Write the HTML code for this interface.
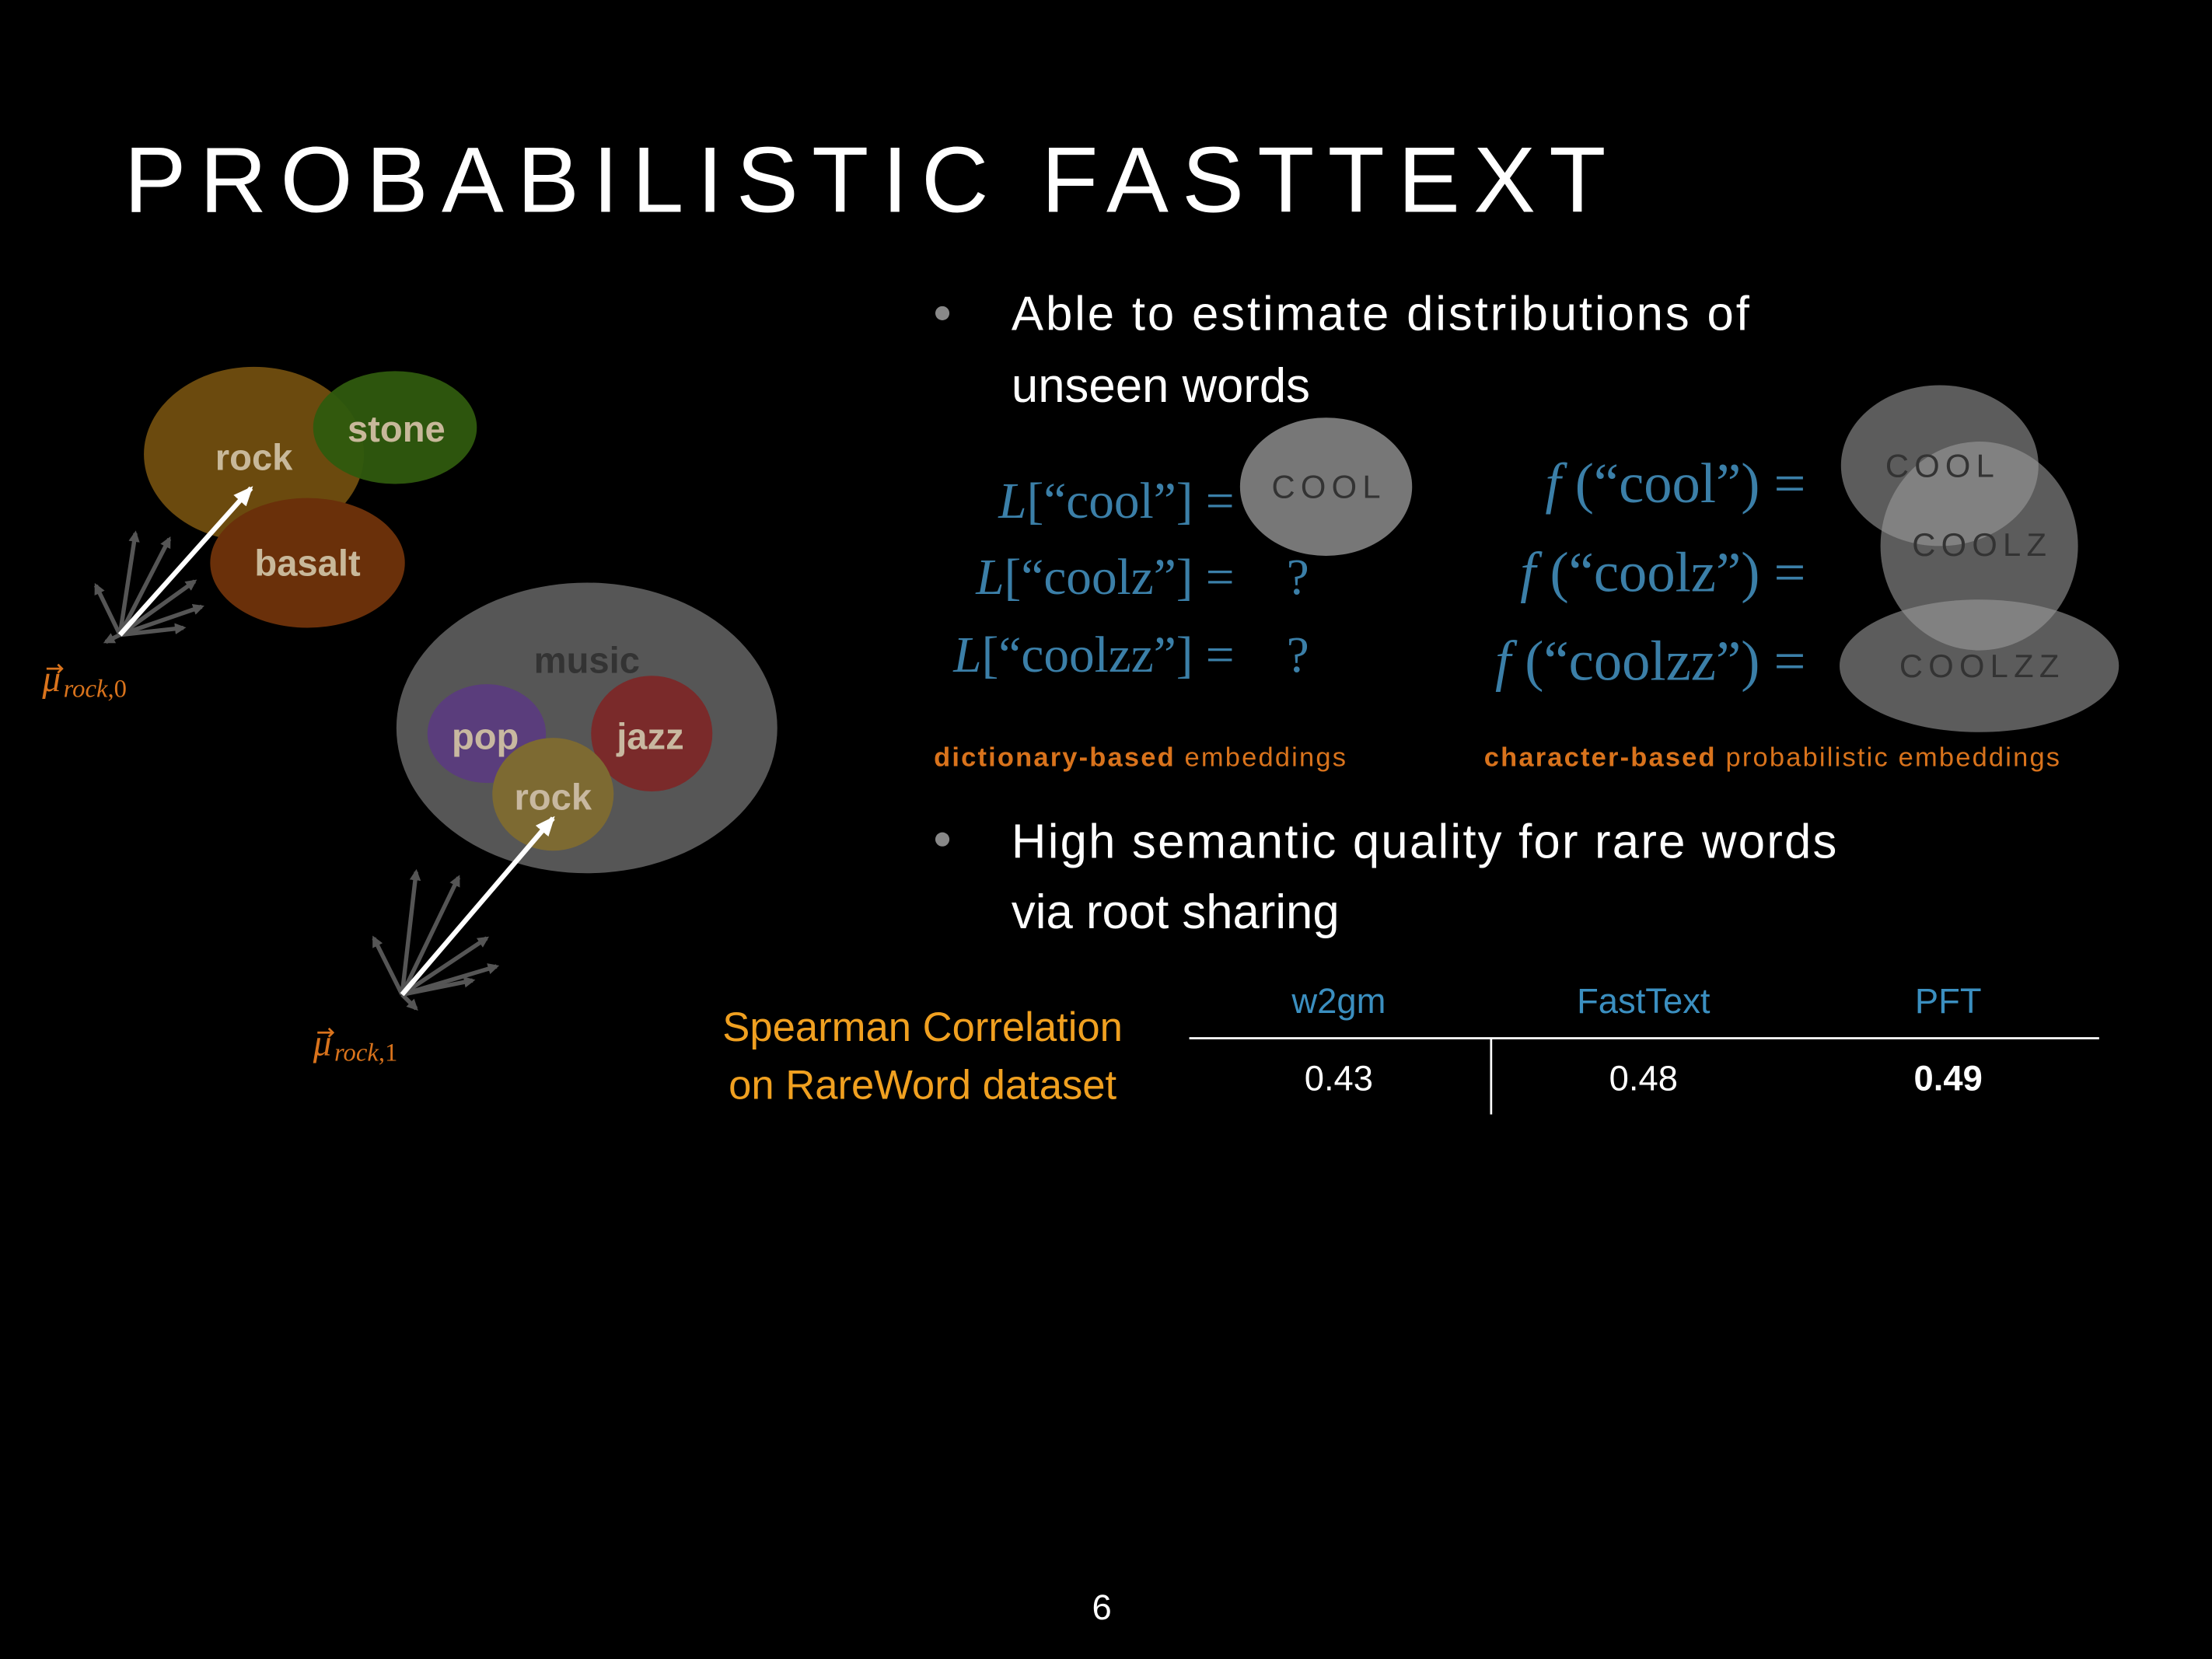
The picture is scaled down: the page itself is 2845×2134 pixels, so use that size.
<!DOCTYPE html>
<html><head><meta charset="utf-8"><style>
html,body{margin:0;padding:0;background:#000;}
svg{display:block}
</style></head><body>
<svg width="2845" height="2134" viewBox="0 0 1568 1176" xmlns="http://www.w3.org/2000/svg">
<rect width="1568" height="1176" fill="#000"/>
<defs>
<marker id="ag" markerWidth="8" markerHeight="8" refX="6" refY="4" orient="auto" markerUnits="userSpaceOnUse"><path d="M0,0 L8,4 L0,8 z" fill="#555"/></marker>
<marker id="awb" markerWidth="14" markerHeight="12" refX="12" refY="6" orient="auto" markerUnits="userSpaceOnUse"><path d="M0,0 L14,6 L0,12 z" fill="#fff"/></marker>
</defs>
<text x="88" y="150" fill="#fff" font-family="Liberation Sans, sans-serif" font-size="66" letter-spacing="9.5">PROBABILISTIC FASTTEXT</text>

<circle cx="668" cy="222" r="5" fill="#888"/>
<g font-family="Liberation Sans, sans-serif" font-size="34" fill="#fff">
<text x="717" y="234" textLength="523">Able to estimate distributions of</text>
<text x="717" y="285">unseen words</text>
<text x="717" y="608" textLength="585">High semantic quality for rare words</text>
<text x="717" y="658">via root sharing</text>
</g>
<circle cx="668" cy="595" r="5" fill="#888"/>

<ellipse cx="940" cy="345" rx="61" ry="49" fill="#777"/>
<g fill="#9a9a9a" fill-opacity="0.6">
<ellipse cx="1375" cy="330" rx="70" ry="57"/>
<ellipse cx="1403" cy="387" rx="70" ry="74"/>
<ellipse cx="1403" cy="472" rx="99" ry="47"/>
</g>
<g font-family="Liberation Sans, sans-serif" font-size="23" fill="#333" letter-spacing="4" text-anchor="middle">
<text x="942" y="353">COOL</text>
<text x="1377" y="338">COOL</text>
<text x="1405" y="394">COOLZ</text>
<text x="1405" y="480">COOLZZ</text>
</g>

<g font-family="Liberation Serif, serif" font-size="36" fill="#3b7fa8">
<text x="875" y="367" text-anchor="end"><tspan font-style="italic">L</tspan>[“cool”] =</text>
<text x="875" y="421" text-anchor="end"><tspan font-style="italic">L</tspan>[“coolz”] =</text>
<text x="875" y="476" text-anchor="end"><tspan font-style="italic">L</tspan>[“coolzz”] =</text>
<text x="912" y="421">?</text>
<text x="912" y="476">?</text>
<text x="1280" y="356" text-anchor="end" font-size="40"><tspan font-style="italic">f</tspan> (“cool”) =</text>
<text x="1280" y="419" text-anchor="end" font-size="40"><tspan font-style="italic">f</tspan> (“coolz”) =</text>
<text x="1280" y="482" text-anchor="end" font-size="40"><tspan font-style="italic">f</tspan> (“coolzz”) =</text>
</g>
<g font-family="Liberation Sans, sans-serif" font-size="19" fill="#d9731c">
<text x="662" y="543" textLength="292"><tspan font-weight="bold">dictionary-based</tspan> embeddings</text>
<text x="1052" y="543" textLength="408"><tspan font-weight="bold">character-based</tspan> probabilistic embeddings</text>
</g>

<g font-family="Liberation Sans, sans-serif" font-size="29" fill="#f0a020" text-anchor="middle">
<text x="654" y="738">Spearman Correlation</text>
<text x="654" y="779">on RareWord dataset</text>
</g>
<g font-family="Liberation Sans, sans-serif" font-size="25" fill="#3b8fc0" text-anchor="middle">
<text x="949" y="718">w2gm</text>
<text x="1165" y="718">FastText</text>
<text x="1381" y="718">PFT</text>
</g>
<line x1="843" y1="736" x2="1488" y2="736" stroke="#fff" stroke-width="1.5"/>
<line x1="1057" y1="736" x2="1057" y2="790" stroke="#fff" stroke-width="1.5"/>
<g font-family="Liberation Sans, sans-serif" font-size="25" fill="#fff" text-anchor="middle">
<text x="949" y="773">0.43</text>
<text x="1165" y="773">0.48</text>
<text x="1381" y="773" font-weight="bold">0.49</text>
</g>
<text x="781" y="1148" fill="#fff" font-family="Liberation Sans, sans-serif" font-size="25" text-anchor="middle">6</text>

<ellipse cx="180" cy="322" rx="78" ry="62" fill="#6b4a0e"/>
<ellipse cx="280" cy="303" rx="58" ry="40" fill="#2f5a0e" fill-opacity="0.95"/>
<ellipse cx="218" cy="399" rx="69" ry="46" fill="#6a300a"/>
<g font-family="Liberation Sans, sans-serif" font-weight="bold" font-size="26" fill="#c8b89a" text-anchor="middle">
<text x="180" y="333">rock</text>
<text x="281" y="313">stone</text>
<text x="218" y="408">basalt</text>
</g>
<g stroke="#555" stroke-width="3" marker-end="url(#ag)">
<line x1="85" y1="450" x2="68" y2="415"/>
<line x1="85" y1="450" x2="96" y2="378"/>
<line x1="85" y1="450" x2="120" y2="382"/>
<line x1="85" y1="450" x2="138" y2="412"/>
<line x1="85" y1="450" x2="143" y2="430"/>
<line x1="85" y1="450" x2="130" y2="445"/>
<line x1="85" y1="450" x2="75" y2="455"/>
</g>
<line x1="85" y1="450" x2="178" y2="346" stroke="#fff" stroke-width="3.5" marker-end="url(#awb)"/>
<g fill="#d9731c" font-family="Liberation Serif, serif" font-style="italic">
<text x="30" y="490" font-size="26">μ</text>
<text x="45" y="494" font-size="18">rock<tspan font-style="normal">,0</tspan></text>
<path d="M33,474 L44,474 M41,471 L44,474 L41,477" stroke="#d9731c" stroke-width="1.5" fill="none"/>
</g>

<ellipse cx="416" cy="516" rx="135" ry="103" fill="#565656"/>
<text x="416" y="477" font-family="Liberation Sans, sans-serif" font-weight="bold" font-size="26" fill="#333" text-anchor="middle">music</text>
<ellipse cx="345" cy="520" rx="42" ry="35" fill="#5a3d7c"/>
<ellipse cx="462" cy="520" rx="43" ry="41" fill="#7a2a2a"/>
<ellipse cx="392" cy="563" rx="43" ry="40" fill="#7d6a32"/>
<g font-family="Liberation Sans, sans-serif" font-weight="bold" font-size="26" fill="#c8b8a0" text-anchor="middle">
<text x="344" y="531">pop</text>
<text x="461" y="531">jazz</text>
<text x="392" y="574">rock</text>
</g>
<g stroke="#555" stroke-width="3" marker-end="url(#ag)">
<line x1="285" y1="705" x2="265" y2="665"/>
<line x1="285" y1="705" x2="295" y2="618"/>
<line x1="285" y1="705" x2="325" y2="622"/>
<line x1="285" y1="705" x2="345" y2="665"/>
<line x1="285" y1="705" x2="352" y2="685"/>
<line x1="285" y1="705" x2="335" y2="695"/>
<line x1="285" y1="705" x2="295" y2="715"/>
</g>
<line x1="285" y1="705" x2="392" y2="580" stroke="#fff" stroke-width="3.5" marker-end="url(#awb)"/>
<g fill="#d9731c" font-family="Liberation Serif, serif" font-style="italic">
<text x="222" y="748" font-size="26">μ</text>
<text x="237" y="752" font-size="18">rock<tspan font-style="normal">,1</tspan></text>
<path d="M225,732 L236,732 M233,729 L236,732 L233,735" stroke="#d9731c" stroke-width="1.5" fill="none"/>
</g>
</svg>
</body></html>
